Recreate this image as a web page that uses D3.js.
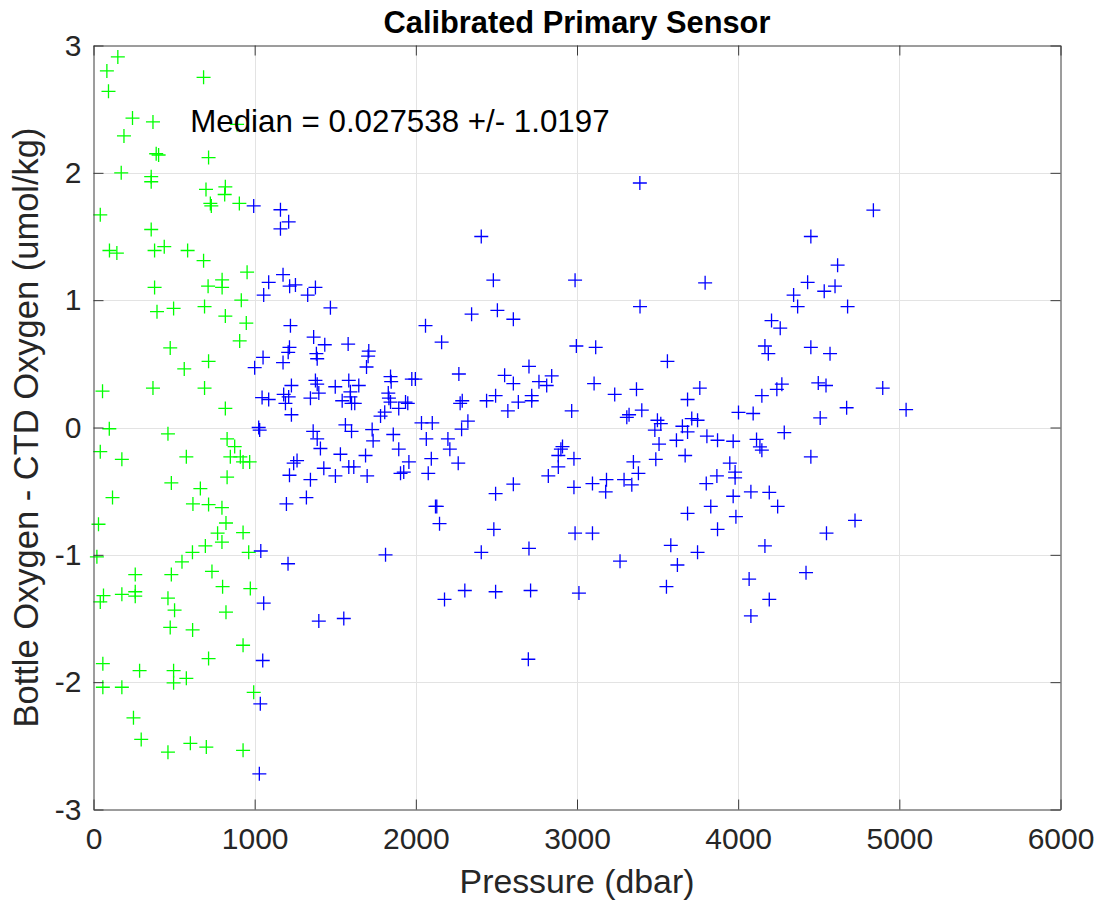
<!DOCTYPE html>
<html>
<head>
<meta charset="utf-8">
<script src="https://cdn.jsdelivr.net/npm/d3@7"></script>
<style>
  html, body { margin: 0; padding: 0; background: #fff; }
  svg { display: block; font-family: "Liberation Sans", Arial, Helvetica, sans-serif; }
</style>
</head>
<body>
<svg id="chart" width="1101" height="905"></svg>
<script>
// ---- Data ----
const titleText = "Calibrated Primary Sensor";
const xLabel = "Pressure (dbar)";
const yLabel = "Bottle Oxygen - CTD Oxygen (umol/kg)";
const annotation = "Median = 0.027538 +/- 1.0197";
const xTicks = [0, 1000, 2000, 3000, 4000, 5000, 6000];
const yTicks = [-3, -2, -1, 0, 1, 2, 3];

// shallow samples (green): [pressure, difference]
const greenPoints = [
 [151,2.91],[83,2.80],[683,2.75],[93,2.64],[242,2.43],[369,2.40],[891,2.38],[189,2.29],[389,2.15],[404,2.14],
 [714,2.12],[172,2.00],[358,1.97],[358,1.93],[698,1.87],[818,1.89],[814,1.83],[725,1.76],[731,1.74],[905,1.76],
 [42,1.67],[358,1.555],[99,1.39],[145,1.37],[379,1.39],[439,1.42],[584,1.39],[683,1.31],[953,1.22],[379,1.10],
 [711,1.11],[798,1.16],[798,1.10],[917,1.00],
 [394,0.91],[497,0.935],[689,0.95],[818,0.875],[948,0.82],[907,0.68],[476,0.625],[714,0.52],[563,0.46],[56,0.285],
 [369,0.31],[689,0.31],[818,0.15],[98,-0.01],[462,-0.05],[829,-0.09],[876,-0.15],[42,-0.19],[176,-0.25],[576,-0.23],
 [849,-0.23],[911,-0.23],[928,-0.27],[969,-0.27],[829,-0.39],[483,-0.435],[663,-0.48],[118,-0.55],[617,-0.60],
 [714,-0.605],[797,-0.63],[822,-0.75],[31,-0.76],[928,-0.825],[770,-0.83],[797,-0.90],[694,-0.93],[614,-0.98],[963,-0.98],
 [21,-1.016],[549,-1.055],[259,-1.155],[483,-1.155],[735,-1.13],[801,-1.25],[973,-1.265],[62,-1.32],[176,-1.31],
 [259,-1.29],[259,-1.325],[42,-1.37],[462,-1.34],[503,-1.435],[822,-1.45],[476,-1.57],[615,-1.59],[928,-1.71],
 [714,-1.815],[58,-1.855],[286,-1.91],[497,-1.91],[497,-2.005],[576,-1.97],[58,-2.04],[176,-2.04],[994,-2.08],
 [248,-2.28],[296,-2.45],[462,-2.55],[601,-2.48],[700,-2.51],[928,-2.535]
];

// deep samples (blue): [pressure, difference]
const bluePoints = [
 [994,1.74],[1160,1.71],[1211,1.615],[1160,1.56],[1176,1.20],[1087,1.14],[1217,1.11],[1253,1.12],[1377,1.10],[1056,1.04],[1329,1.04],
 [1470,0.94],[1222,0.80],[1366,0.71],[1435,0.65],[1216,0.63],[1208,0.59],[1383,0.58],[1388,0.54],[1052,0.55],[1176,0.51],
 [1000,0.47],[1377,0.37],[1388,0.34],[1228,0.33],[1500,0.32],[1180,0.26],[1211,0.24],[1398,0.27],[1046,0.235],[1087,0.22],
 [1346,0.23],[1191,0.19],[1228,0.10],[1025,0.0],[1031,-0.02],[1363,-0.03],[1388,-0.09],[1408,-0.165],[1263,-0.26],
 [1242,-0.28],[1429,-0.32],[1501,-0.38],[1216,-0.375],[1346,-0.41],[1321,-0.55],[1197,-0.60],[1038,-0.97],
 [1207,-1.07],[1056,-1.38],[1398,-1.52],[1553,-1.50],[1050,-1.83],[1035,-2.17],[1029,-2.72],
 [2406,1.50],[2481,1.157],[2988,1.157],
 [2346,0.89],[2506,0.92],[2605,0.85],[2060,0.80],[2160,0.67],[1580,0.655],[1708,0.60],[1704,0.56],[1694,0.475],
 [2996,0.64],[2702,0.48],[2267,0.42],[2551,0.41],[2605,0.345],[2764,0.36],[2812,0.33],[2843,0.405],[1584,0.37],
 [1646,0.33],[1843,0.40],[1847,0.36],[1975,0.38],[1997,0.38],[1594,0.28],[1594,0.24],[1543,0.21],
 [1601,0.19],[1621,0.19],[1829,0.27],[1833,0.23],[1843,0.20],[1936,0.20],[1950,0.19],[1894,0.15],[1807,0.12],
 [1781,0.09],[2288,0.21],[2275,0.19],[2439,0.21],[2495,0.25],[2636,0.20],[2719,0.25],[2719,0.21],[2571,0.13],
 [2967,0.13],[2323,0.05],[2035,0.036],[2102,0.036],[2284,-0.013],[1563,0.02],[1601,-0.03],[1729,-0.016],
 [1735,-0.105],[1860,-0.055],[2065,-0.09],[2199,-0.09],[2211,-0.17],[1532,-0.21],[1688,-0.22],[1894,-0.17],
 [1957,-0.27],[2096,-0.245],[2263,-0.28],[1584,-0.31],[1615,-0.31],[1698,-0.38],[1905,-0.36],[1925,-0.35],
 [2077,-0.36],[2900,-0.17],[2910,-0.15],[2884,-0.22],[2981,-0.245],[2884,-0.31],[2822,-0.38],[2605,-0.445],
 [2495,-0.52],[2981,-0.47],[2122,-0.62],[2130,-0.62],[2147,-0.755],[2484,-0.80],[2988,-0.83],[2702,-0.95],
 [2406,-0.98],[1812,-1.00],
 [2178,-1.35],[2304,-1.28],[2495,-1.29],[2712,-1.28],[3012,-1.30],[2698,-1.82],
 [3390,1.92],[3795,1.136],[4451,1.50],[4431,1.14],[4344,1.04],[4534,1.07],
 [3391,0.95],[4369,0.95],[4207,0.84],[4261,0.78],[3116,0.63],[4166,0.64],[4187,0.58],[4451,0.63],[4570,0.58],
 [3561,0.52],[3106,0.345],[3234,0.26],[3369,0.30],[3762,0.31],[3686,0.22],[4271,0.34],[4240,0.30],[4147,0.25],
 [4497,0.35],[4545,0.33],[4509,0.075],[3402,0.136],[3323,0.10],[3309,0.08],[3499,0.057],[3520,0.03],[3483,-0.02],
 [3654,0.01],[3686,-0.035],[3712,0.07],[3748,0.057],[4002,0.118],[4093,0.11],[3806,-0.068],[3872,-0.10],
 [3969,-0.108],[4114,-0.094],[4135,-0.152],[4147,-0.178],[4286,-0.04],[3617,-0.10],[3509,-0.13],[3671,-0.22],
 [3489,-0.25],[3350,-0.27],[3381,-0.36],[4451,-0.23],[3948,-0.28],[3981,-0.35],[3981,-0.395],[3868,-0.38],
 [3802,-0.44],[3292,-0.41],[3183,-0.41],[3096,-0.44],[3178,-0.505],[3340,-0.45],[3969,-0.54],[4079,-0.505],
 [4193,-0.51],[4245,-0.62],[3830,-0.62],[3686,-0.675],[3986,-0.70],[3872,-0.80],[3096,-0.83],[4548,-0.83],
 [3582,-0.925],[3748,-0.98],[4166,-0.93],
 [3267,-1.05],[3623,-1.08],[3555,-1.25],[4068,-1.19],[4193,-1.35],[4079,-1.48],[4421,-1.14],
 [4839,1.707],[4617,1.275],[4601,1.11],[4679,0.95],[4897,0.31],[4673,0.155],[5042,0.14],[4725,-0.73]
];

// ---- Layout ----
const W = 1101, H = 905;
const m = { left: 93.5, right: 1060.5, top: 45.5, bottom: 809.5 };
const svg = d3.select("#chart");
const x = d3.scaleLinear().domain([0, 6000]).range([m.left, m.right]);
const y = d3.scaleLinear().domain([-3, 3]).range([m.bottom, m.top]);
const axisColor = "#3a3a3a";
const textColor = "#262626";

// grid
const grid = svg.append("g");
grid.selectAll(".gx").data(xTicks.slice(1, -1)).join("line")
  .attr("x1", d => Math.round(x(d)) + 0.5).attr("x2", d => Math.round(x(d)) + 0.5)
  .attr("y1", m.top).attr("y2", m.bottom)
  .attr("stroke", "#e3e3e3").attr("stroke-width", 1);
grid.selectAll(".gy").data(yTicks.slice(1, -1)).join("line")
  .attr("y1", d => Math.round(y(d)) + 0.5).attr("y2", d => Math.round(y(d)) + 0.5)
  .attr("x1", m.left).attr("x2", m.right)
  .attr("stroke", "#e3e3e3").attr("stroke-width", 1);

// points
const cross = "M-7,0H7M0,-7V7";
svg.append("g").selectAll("path").data(greenPoints).join("path")
  .attr("d", cross)
  .attr("transform", d => `translate(${x(d[0])},${y(d[1])})`)
  .attr("stroke", "#00ff00").attr("stroke-width", 1.3).attr("fill", "none");
svg.append("g").selectAll("path").data(bluePoints).join("path")
  .attr("d", cross)
  .attr("transform", d => `translate(${x(d[0])},${y(d[1])})`)
  .attr("stroke", "#0000ff").attr("stroke-width", 1.3).attr("fill", "none");

// axes (ticks inside, box)
const tickLen = 10;
const fmt = d => String(d);
const axB = svg.append("g").attr("transform", `translate(0,${m.bottom})`)
  .call(d3.axisBottom(x).tickValues(xTicks).tickFormat(fmt).tickSizeInner(-tickLen).tickSizeOuter(0).tickPadding(18));
const axT = svg.append("g").attr("transform", `translate(0,${m.top})`)
  .call(d3.axisTop(x).tickValues(xTicks).tickFormat("").tickSizeInner(-tickLen).tickSizeOuter(0));
const axL = svg.append("g").attr("transform", `translate(${m.left},0)`)
  .call(d3.axisLeft(y).tickValues(yTicks).tickFormat(fmt).tickSizeInner(-tickLen).tickSizeOuter(0).tickPadding(12));
const axR = svg.append("g").attr("transform", `translate(${m.right},0)`)
  .call(d3.axisRight(y).tickValues(yTicks).tickFormat("").tickSizeInner(-tickLen).tickSizeOuter(0));
[axB, axT, axL, axR].forEach(a => {
  a.select(".domain").attr("stroke", axisColor).attr("stroke-width", 1);
  a.selectAll(".tick line").attr("stroke", axisColor).attr("stroke-width", 1);
  a.selectAll(".tick text").attr("fill", textColor)
    .style("font-family", '"Liberation Sans", Arial, sans-serif').style("font-size", "30px");
});

// titles
svg.append("text").attr("x", (m.left + m.right) / 2).attr("y", 33)
  .attr("text-anchor", "middle").attr("font-weight", "bold").attr("font-size", 30.8)
  .attr("fill", "#000").text(titleText);
svg.append("text").attr("x", (m.left + m.right) / 2).attr("y", 893)
  .attr("text-anchor", "middle").attr("font-size", 33.8).attr("fill", textColor).text(xLabel);
svg.append("text").attr("transform", `translate(38,${(m.top + m.bottom) / 2}) rotate(-90)`)
  .attr("text-anchor", "middle").attr("font-size", 34.5).attr("fill", textColor).text(yLabel);
svg.append("text").attr("x", x(600)).attr("y", 132)
  .attr("font-size", 31.3).attr("fill", "#000").text(annotation);
</script>
</body>
</html>
